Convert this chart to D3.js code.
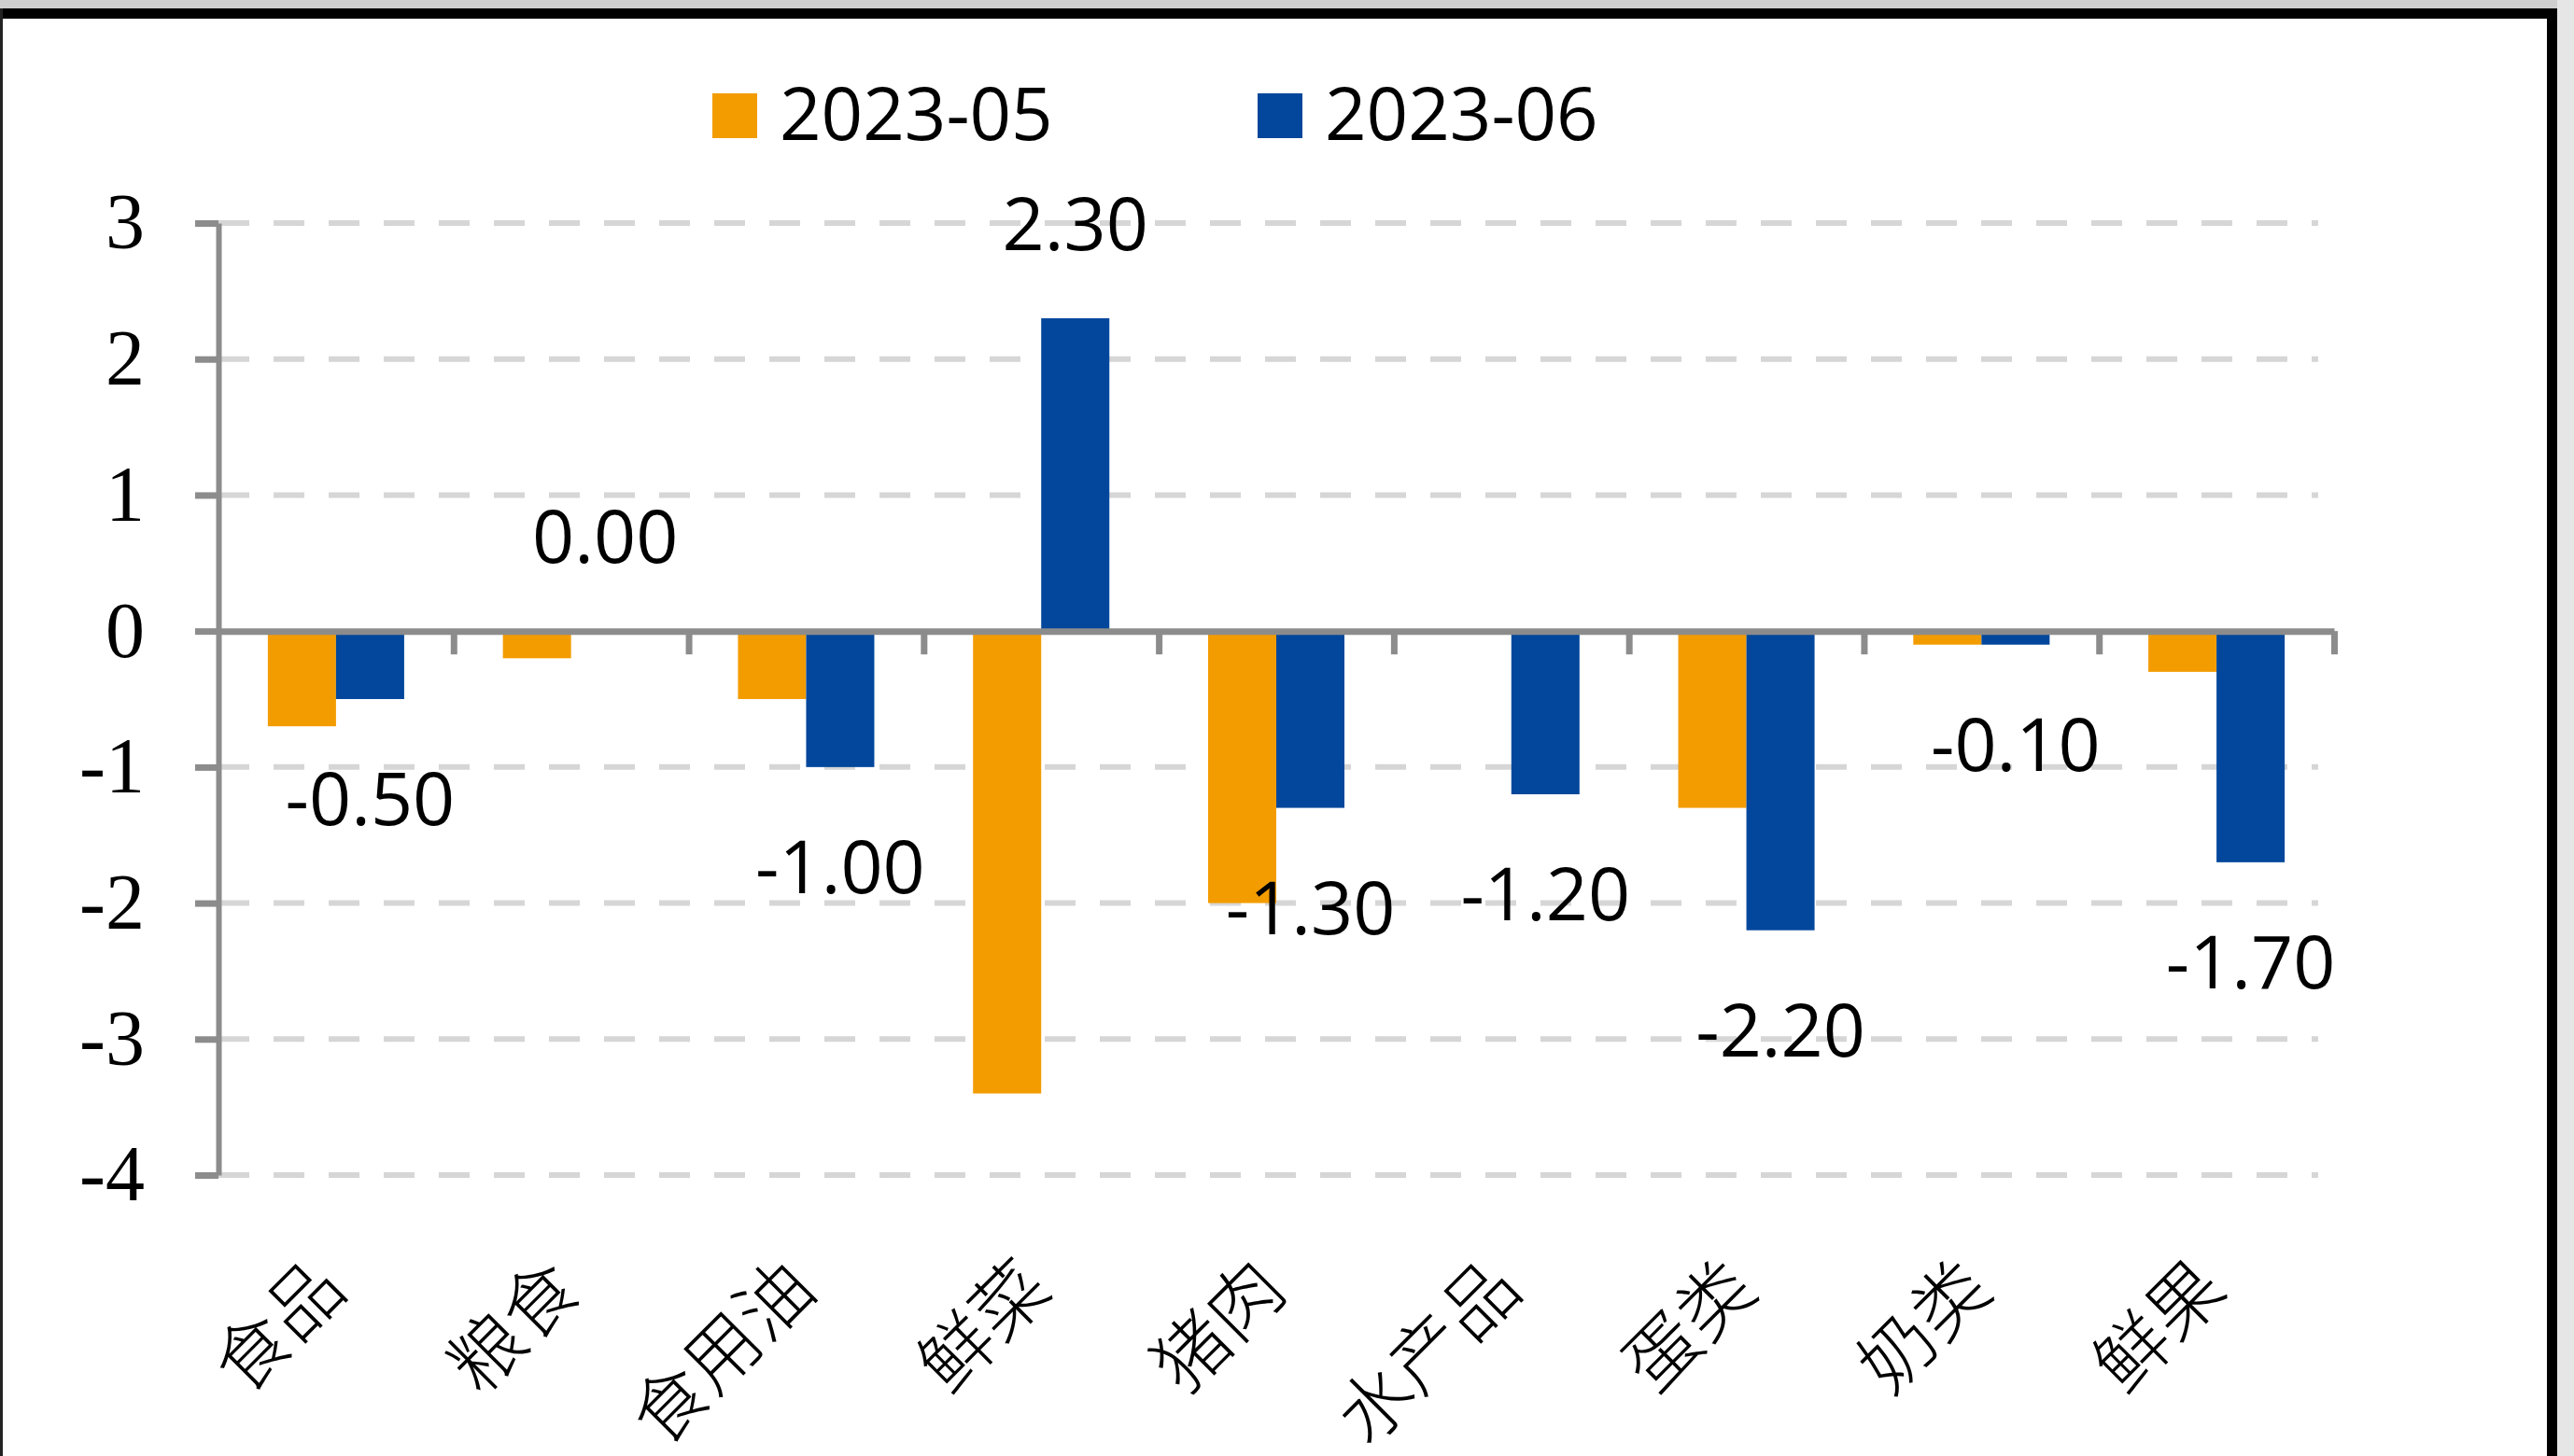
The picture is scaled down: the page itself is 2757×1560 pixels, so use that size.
<!DOCTYPE html>
<html>
<head>
<meta charset="utf-8">
<script src="https://cdn.jsdelivr.net/npm/d3@7"></script>
<style>
  html, body { margin: 0; padding: 0; background: #ffffff; }
  svg { display: block; }
</style>
</head>
<body>
<svg id="chart" width="2757" height="1560"></svg>
<script>
const categories = ["食品", "粮食", "食用油", "鲜菜", "猪肉", "水产品", "蛋类", "奶类", "鲜果"];
const seriesNames = ["2023-05", "2023-06"];
const values2023_05 = [-0.7, -0.2, -0.5, -3.4, -2.0, 0.0, -1.3, -0.1, -0.3];
const values2023_06 = [-0.5, 0.0, -1.0, 2.3, -1.3, -1.2, -2.2, -0.1, -1.7];
const yTicks = [-4, -3, -2, -1, 0, 1, 2, 3];
const colors = ["#F39C00", "#02479C"];

(function () {
const svg = d3.select("#chart");

// frame
svg.append("rect").attr("x", 0).attr("y", 0).attr("width", 2757).attr("height", 9).attr("fill", "#cfcfcf");
svg.append("rect").attr("x", 0).attr("y", 9).attr("width", 2740).attr("height", 11).attr("fill", "#000");
svg.append("rect").attr("x", 0).attr("y", 9).attr("width", 3).attr("height", 1551).attr("fill", "#222");
svg.append("rect").attr("x", 2728).attr("y", 9).attr("width", 11).attr("height", 1551).attr("fill", "#000");
svg.append("rect").attr("x", 2739).attr("y", 0).attr("width", 18).attr("height", 1560).attr("fill", "#e6e6e6");

const plotLeft = 234, plotRight = 2500, plotTop = 239, plotBottom = 1259;
const y = d3.scaleLinear().domain([-4, 3]).range([plotBottom, plotTop]);
const x = d3.scaleBand().domain(categories).range([plotLeft, plotRight]).paddingInner(0).paddingOuter(0);
const bw = x.bandwidth();
const x1 = d3.scaleBand().domain(seriesNames).range([bw * 0.21, bw * 0.79]).padding(0);
const xIdx = d3.scaleLinear().domain([0, categories.length]).range([plotLeft, plotRight]);

// gridlines
svg.append("g").selectAll("line")
  .data(yTicks.filter(v => v !== 0))
  .join("line")
  .attr("x1", plotLeft).attr("x2", 2483)
  .attr("y1", d => y(d)).attr("y2", d => y(d))
  .attr("stroke", "#d6d6d6").attr("stroke-width", 6)
  .attr("stroke-dasharray", "33,26");

// bars
const data = categories.map((c, i) => ({ cat: c, vals: [values2023_05[i], values2023_06[i]] }));
const groups = svg.append("g").selectAll("g")
  .data(data).join("g")
  .attr("transform", d => `translate(${x(d.cat)},0)`);
groups.selectAll("rect")
  .data(d => d.vals.map((v, k) => ({ s: seriesNames[k], v, k })))
  .join("rect")
  .attr("x", d => x1(d.s))
  .attr("width", x1.bandwidth())
  .attr("y", d => Math.min(y(d.v), y(0)))
  .attr("height", d => Math.abs(y(d.v) - y(0)))
  .attr("fill", d => colors[d.k]);

// y axis
const yAxis = svg.append("g")
  .attr("transform", `translate(${plotLeft},0)`)
  .call(d3.axisLeft(y).tickValues(yTicks).tickSize(25).tickSizeOuter(0).tickPadding(54));
yAxis.select(".domain").attr("stroke", "#8c8c8c").attr("stroke-width", 6);
yAxis.selectAll(".tick line").attr("stroke", "#8c8c8c").attr("stroke-width", 7);
yAxis.selectAll(".tick text")
  .attr("font-family", "'Liberation Serif', 'Times New Roman', serif")
  .attr("font-size", 84).attr("fill", "#000")
  .text(d => d < 0 ? "-" + Math.abs(d) : String(d));

// x axis at zero
const xAxis = svg.append("g")
  .attr("transform", `translate(0,${y(0)})`)
  .call(d3.axisBottom(xIdx).tickValues(d3.range(1, categories.length + 1)).tickSize(25).tickSizeOuter(0).tickFormat(""));
xAxis.select(".domain").attr("stroke", "#8c8c8c").attr("stroke-width", 7);
xAxis.selectAll(".tick line").attr("stroke", "#8c8c8c").attr("stroke-width", 7);

// data labels for 2023-06
svg.append("g").selectAll("text")
  .data(data)
  .join("text")
  .attr("x", d => x(d.cat) + x1(seriesNames[1]) + x1.bandwidth() / 2)
  .attr("y", d => d.vals[1] >= 0 ? y(d.vals[1]) - 73 : y(d.vals[1]) + 135)
  .attr("text-anchor", "middle")
  .attr("font-family", "'Open Sans', 'Noto Sans', sans-serif")
  .attr("font-size", 79).attr("fill", "#000")
  .text(d => d3.format(".2f")(d.vals[1]).replace("\u2212", "-"));

// category labels
svg.append("g").selectAll("text")
  .data(categories)
  .join("text")
  .attr("transform", d => `translate(${x(d) + bw / 2 + 14},1385) rotate(-45)`)
  .attr("text-anchor", "end")
  .attr("font-family", "'Noto Sans CJK SC', sans-serif")
  .attr("font-weight", 300)
  .attr("font-size", 79).attr("fill", "#000")
  .text(d => d);

// legend
const legendX = [763, 1347];
const legend = svg.append("g").selectAll("g")
  .data(seriesNames).join("g")
  .attr("transform", (d, i) => `translate(${legendX[i]},100)`);
legend.append("rect").attr("width", 48).attr("height", 48).attr("fill", (d, i) => colors[i]);
legend.append("text")
  .attr("x", 72).attr("y", 50)
  .attr("font-family", "'Open Sans', 'Noto Sans', sans-serif")
  .attr("font-size", 78).attr("fill", "#000")
  .text(d => d);
})();
</script>
</body>
</html>
